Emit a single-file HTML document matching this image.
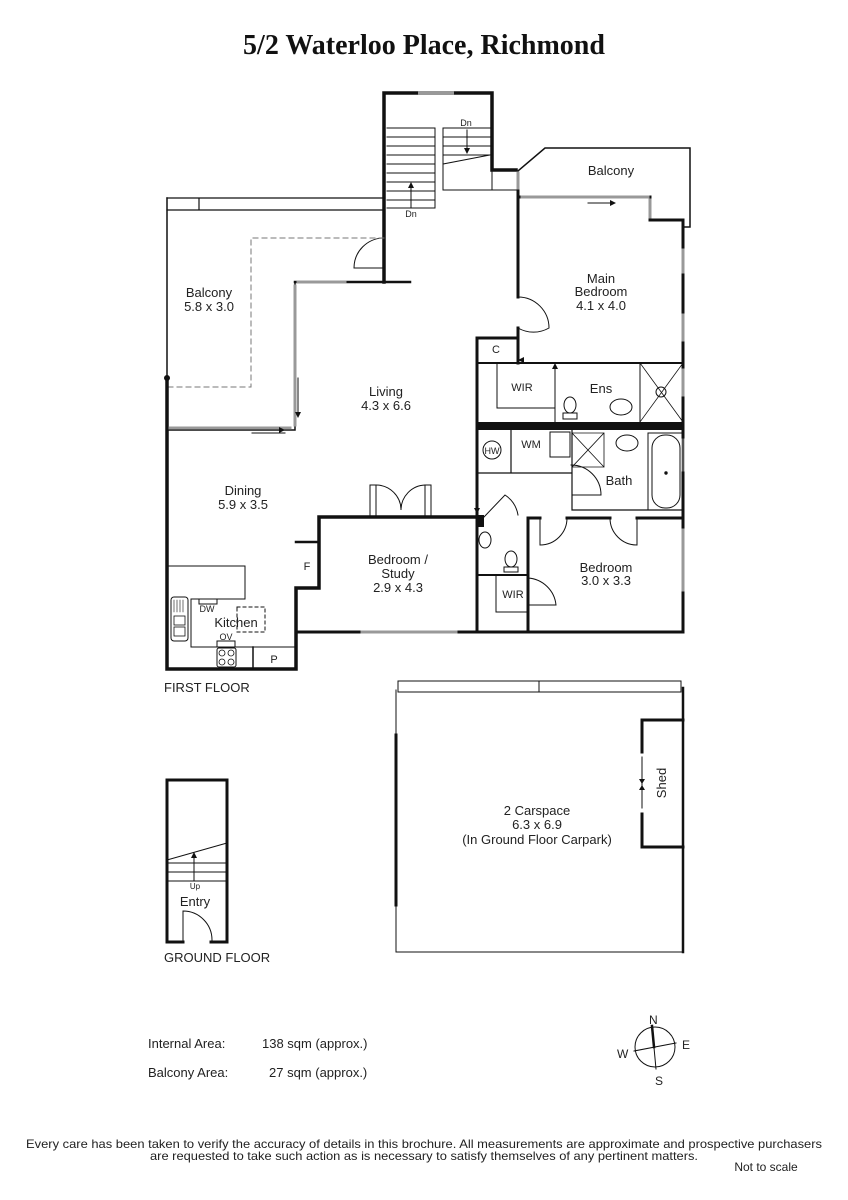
<!DOCTYPE html>
<html><head><meta charset="utf-8"><style>
html,body{margin:0;padding:0;background:#fff;}
svg{display:block}
text{font-family:"Liberation Sans",sans-serif;fill:#222;}
</style></head><body>
<svg width="848" height="1200" viewBox="0 0 848 1200" xmlns="http://www.w3.org/2000/svg">
<text x="424" y="54" text-anchor="middle" style="font-family:'Liberation Serif',serif;font-weight:bold;font-size:28px;fill:#111">5/2 Waterloo Place, Richmond</text>

<g fill="none" stroke="#111" stroke-linecap="square">
<path d="M384 282 V93 H492 V170 H516" stroke-width="3.5"/>
<path d="M384 272 V282" stroke-width="3"/>
<line x1="420" y1="93" x2="452" y2="93" stroke="#999" stroke-width="4"/>
<g stroke-width="1">
<path d="M387 128 H435 V208 H387"/>
<path d="M387 137 H435 M387 146 H435 M387 155 H435 M387 164 H435 M387 173 H435 M387 182 H435 M387 191 H435 M387 200 H435"/>
<path d="M443 128 V190 H492 M443 128 H490 M443 137 H490 M443 146 H490 M443 155 H490 M443 164 L490 155"/>
<path d="M492 170 V190 H516"/>
<path d="M411 208 V186" /><path d="M467 130 V150"/>
</g>
<path d="M408 188 L411 182 L414 188Z M464 148 L467 154 L470 148Z" fill="#111" stroke="none"/>
<path d="M384 238 A30 30 0 0 0 354 268 H384" stroke-width="1"/>
<path d="M295 282 H410" stroke-width="2.5"/>
<line x1="298" y1="282" x2="345" y2="282" stroke="#999" stroke-width="3"/>
<path d="M167 198 H384 M199 210 H384 M167 210 H199 V198" stroke-width="1.2"/>
<path d="M384 238 H251 V387 H167" stroke-width="1" stroke-dasharray="5,4" stroke="#777"/>
<path d="M167 198 V378" stroke-width="1.5"/>
<circle cx="167" cy="378" r="2.5" fill="#111"/>
<path d="M167 378 V669 H296 V588 H319 V517 H477" stroke-width="3.5"/>
<path d="M296 542 H319" stroke-width="2.5"/>
<path d="M295 282 V430 H167" stroke-width="1.5"/>
<line x1="295" y1="286" x2="295" y2="425" stroke="#999" stroke-width="3"/>
<line x1="170" y1="428" x2="290" y2="428" stroke="#999" stroke-width="3"/>
<path d="M298 378 V412 M252 433 H285" stroke-width="1"/>
<path d="M295 412 l3 6 l3 -6Z M285 430 l-6 -3 v6Z" fill="#111" stroke="none"/>
<path d="M370 517 V485 H376 V517 M431 517 V485 H425 V517" stroke-width="1"/>
<path d="M376 485 A25 25 0 0 1 401 510 A25 25 0 0 1 425 485" stroke-width="1"/>
<path d="M518 171 L545 148 H690 V227 H683" stroke-width="1.5"/>
<path d="M518 178 V297 M518 328 V363" stroke-width="3"/>
<path d="M518 197 H650 V220 H683 V632" stroke-width="3"/>
<line x1="522" y1="197" x2="648" y2="197" stroke="#999" stroke-width="3"/>
<line x1="518" y1="173" x2="518" y2="188" stroke="#999" stroke-width="3"/>
<line x1="650" y1="200" x2="650" y2="217" stroke="#999" stroke-width="3"/>
<g stroke="#999" stroke-width="3"><line x1="683" y1="250" x2="683" y2="272"/><line x1="683" y1="315" x2="683" y2="340"/><line x1="683" y1="370" x2="683" y2="395"/><line x1="683" y1="440" x2="683" y2="470"/><line x1="683" y1="530" x2="683" y2="590"/></g>
<path d="M588 203 H610" stroke-width="1"/><path d="M610 200 l6 3 l-6 3Z" fill="#111" stroke="none"/>
<path d="M518 297 A31 31 0 0 1 549 328 A31 31 0 0 1 518 328" stroke-width="1"/>
<path d="M477 363 V338 H518" stroke-width="3"/>
<path d="M477 363 H683" stroke-width="2"/>
<path d="M477 363 V632" stroke-width="3"/>
<path d="M497 363 V408 H555 V363" stroke-width="1"/>
<path d="M518 363 H552 M555 363 V393" stroke-width="1"/>
<path d="M518 360 l6 -3 v6Z M555 363 l-3 6 h6Z" fill="#111" stroke="none"/>
<path d="M555 363 V422 M640 363 V422" stroke-width="1"/>
<path d="M640 363 L683 422 M683 363 L640 422" stroke-width="0.8"/>
<circle cx="661" cy="392" r="5" stroke-width="1"/>
<ellipse cx="570" cy="405" rx="6" ry="8" stroke-width="1"/>
<rect x="563" y="413" width="14" height="6" stroke-width="1"/>
<ellipse cx="621" cy="407" rx="11" ry="8" stroke-width="1"/>
<rect x="477" y="422" width="206" height="8" fill="#111" stroke="none"/>
<path d="M477 473 H572 M511 430 V473 M572 430 V510 H683" stroke-width="1.2"/>
<circle cx="492" cy="450" r="9" stroke-width="1"/>
<rect x="550" y="432" width="20" height="25" stroke-width="1"/>
<path d="M572 433 H604 V467 H572 M572 433 L604 467 M604 433 L572 467" stroke-width="0.8"/>
<ellipse cx="627" cy="443" rx="11" ry="8" stroke-width="1"/>
<rect x="648" y="433" width="35" height="77" stroke-width="1"/>
<rect x="652" y="435" width="28" height="73" rx="13" stroke-width="1"/>
<circle cx="666" cy="473" r="1.2" fill="#111"/>
<path d="M571 465 A30 30 0 0 1 601 495 H572" stroke-width="1"/>
<path d="M477 473 V512" stroke-width="1" stroke-dasharray="3,2"/>
<path d="M474 508 l3 6 l3 -6Z" fill="#111" stroke="none"/>
<path d="M528 518 H540 M567 518 H610 M637 518 H683 M528 518 V632" stroke-width="3"/>
<path d="M540 518 V545 A27 27 0 0 0 567 518" stroke-width="1"/>
<path d="M637 518 V545 A27 27 0 0 1 610 518" stroke-width="1"/>
<rect x="477" y="515" width="7" height="12" fill="#111" stroke="none"/>
<path d="M484 517 L505 495 A30 30 0 0 1 518 515" stroke-width="1"/>
<path d="M477 575 H528" stroke-width="2"/>
<ellipse cx="485" cy="540" rx="6" ry="8" stroke-width="1"/>
<ellipse cx="511" cy="559" rx="6" ry="8" stroke-width="1"/>
<rect x="504" y="567" width="14" height="5" stroke-width="1"/>
<path d="M496 575 V612 H528" stroke-width="1"/>
<path d="M528 578 A30 30 0 0 1 556 605 H528" stroke-width="1"/>
<path d="M296 632 H683" stroke-width="3"/>
<line x1="362" y1="632" x2="456" y2="632" stroke="#999" stroke-width="3"/>
<path d="M167 566 H245 V599 H191 V647 H296" stroke-width="1"/>
<path d="M253 669 V647" stroke-width="1.5"/>
<rect x="171" y="597" width="17" height="44" rx="3" stroke-width="1"/>
<rect x="174" y="616" width="11" height="9" stroke-width="0.8"/><rect x="174" y="627" width="11" height="9" stroke-width="0.8"/>
<path d="M174 600 V612 M177 600 V612 M180 600 V612 M183 600 V612" stroke-width="0.6"/>
<rect x="199" y="599" width="18" height="5" stroke-width="1"/>
<rect x="237" y="607" width="28" height="25" stroke-width="1" stroke-dasharray="3,3"/>
<rect x="217" y="641" width="18" height="6" stroke-width="1"/>
<rect x="217" y="648" width="19" height="19" rx="2" stroke-width="1"/>
<circle cx="222" cy="653" r="3" stroke-width="0.8"/><circle cx="231" cy="653" r="3" stroke-width="0.8"/><circle cx="222" cy="662" r="3" stroke-width="0.8"/><circle cx="231" cy="662" r="3" stroke-width="0.8"/>

<path d="M167 900 V780 H227 V942 H211 M183 942 H167 V858" stroke-width="3"/>
<path d="M167 860 L227 843 M167 863 H227 M167 872 H227 M167 881 H227 M194 880 V856" stroke-width="1"/>
<path d="M191 858 l3 -6 l3 6Z" fill="#111" stroke="none"/>
<path d="M183 942 V911 A29 29 0 0 1 212 940" stroke-width="1"/>
<path d="M396 690 V952 H683 V688" stroke-width="1"/>
<path d="M396 735 V905" stroke-width="3"/>
<path d="M683 688 V952" stroke-width="2.5"/>
<rect x="398" y="681" width="283" height="11" stroke-width="1"/>
<path d="M539 681 V692" stroke-width="1"/>
<path d="M683 720 H642 V752 M642 814 V847 H683" stroke-width="3"/>
<path d="M642 757 V808" stroke-width="1"/>
<path d="M639 779 l3 5 l3 -5Z M639 790 l3 -5 l3 5Z" fill="#111" stroke="none"/>
<circle cx="655" cy="1047" r="20" stroke-width="1"/>
<path d="M652 1026 L656 1069" stroke-width="1"/>
<path d="M652 1026 L654 1047" stroke-width="2.5"/>
<path d="M634 1051 L676 1043" stroke-width="1"/>
</g>

<g font-size="13" text-anchor="middle">
<text x="466" y="126" font-size="9">Dn</text>
<text x="411" y="217" font-size="9">Dn</text>
<text x="611" y="175">Balcony</text>
<text x="209" y="297">Balcony</text><text x="209" y="311">5.8 x 3.0</text>
<text x="601" y="283">Main</text><text x="601" y="296">Bedroom</text><text x="601" y="310">4.1 x 4.0</text>
<text x="386" y="396">Living</text><text x="386" y="410">4.3 x 6.6</text>
<text x="496" y="353" font-size="11">C</text>
<text x="522" y="391" font-size="11">WIR</text>
<text x="601" y="393">Ens</text>
<text x="492" y="454" font-size="9">HW</text>
<text x="531" y="448" font-size="11">WM</text>
<text x="619" y="485">Bath</text>
<text x="243" y="495">Dining</text><text x="243" y="509">5.9 x 3.5</text>
<text x="307" y="570" font-size="11">F</text>
<text x="398" y="564">Bedroom /</text><text x="398" y="578">Study</text><text x="398" y="592">2.9 x 4.3</text>
<text x="606" y="572">Bedroom</text><text x="606" y="585">3.0 x 3.3</text>
<text x="513" y="598" font-size="11">WIR</text>
<text x="207" y="612" font-size="9">DW</text>
<text x="236" y="627">Kitchen</text>
<text x="226" y="640" font-size="9">OV</text>
<text x="274" y="663" font-size="11">P</text>
<text x="537" y="815">2 Carspace</text><text x="537" y="829">6.3 x 6.9</text><text x="537" y="844">(In Ground Floor Carpark)</text>
<text x="195" y="889" font-size="8">Up</text>
<text x="195" y="906">Entry</text>
<text x="666" y="783" transform="rotate(-90 666 783)">Shed</text>
</g>
<g font-size="13">
<text x="164" y="692">FIRST FLOOR</text>
<text x="164" y="962">GROUND FLOOR</text>
<text x="148" y="1048">Internal Area:</text><text x="262" y="1048">138 sqm (approx.)</text>
<text x="148" y="1077">Balcony Area:</text><text x="269" y="1077">27 sqm (approx.)</text>
<text x="649" y="1024" font-size="12">N</text><text x="682" y="1049" font-size="12">E</text>
<text x="617" y="1058" font-size="12">W</text><text x="655" y="1085" font-size="12">S</text>
</g>
<g font-size="12" text-anchor="middle">
<text x="424" y="1148" textLength="796" lengthAdjust="spacingAndGlyphs">Every care has been taken to verify the accuracy of details in this brochure.  All measurements are approximate and prospective purchasers</text>
<text x="424" y="1160" textLength="548" lengthAdjust="spacingAndGlyphs">are requested to take such action as is necessary to satisfy themselves of any pertinent matters.</text>
<text x="766" y="1171">Not to scale</text>
</g>
</svg>
</body></html>
